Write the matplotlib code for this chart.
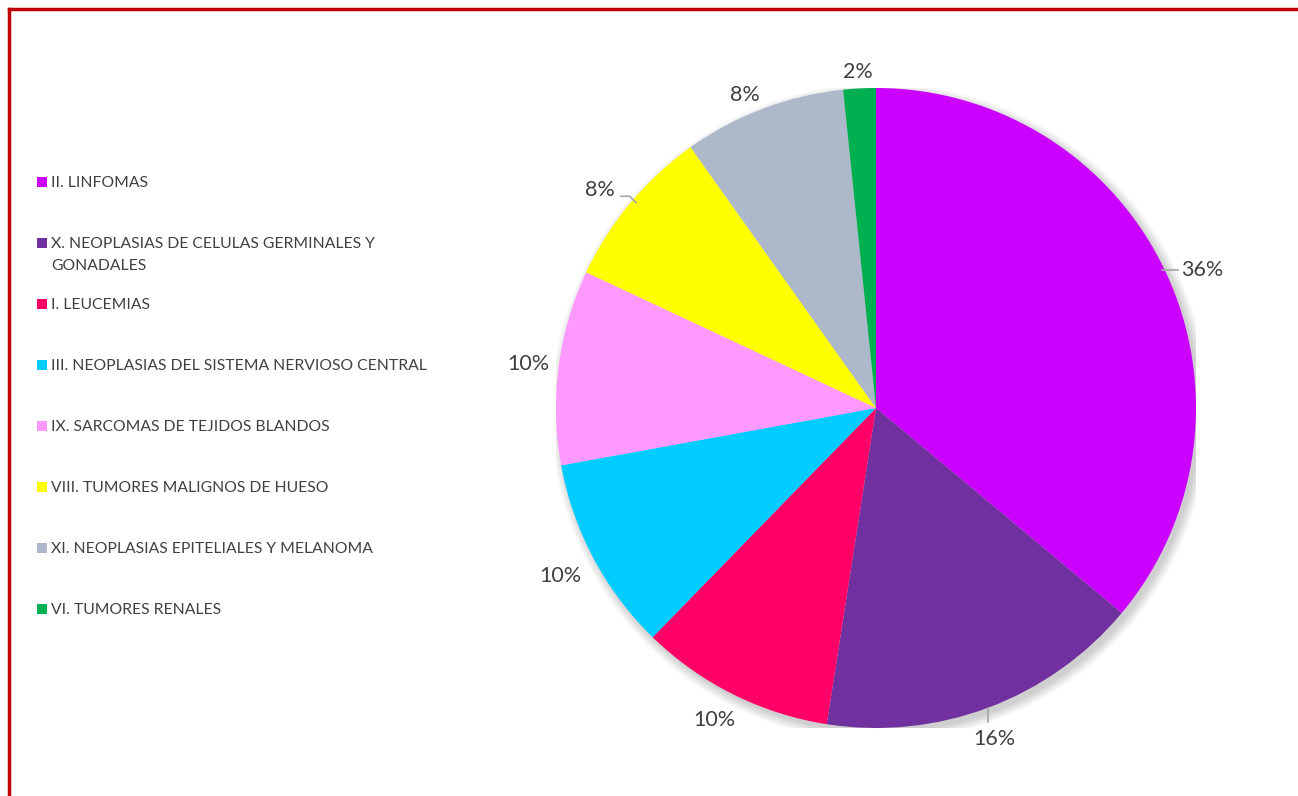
import numpy as np
import matplotlib.pyplot as plt
from matplotlib.lines import Line2D
from matplotlib.patches import Rectangle, Circle

# casos por grupo diagnostico
categorias = [
    "II. LINFOMAS",
    "X. NEOPLASIAS DE CELULAS GERMINALES Y\nGONADALES",
    "I. LEUCEMIAS",
    "III. NEOPLASIAS DEL SISTEMA NERVIOSO CENTRAL",
    "IX. SARCOMAS DE TEJIDOS BLANDOS",
    "VIII. TUMORES MALIGNOS DE HUESO",
    "XI. NEOPLASIAS EPITELIALES Y MELANOMA",
    "VI. TUMORES RENALES",
]
casos = [22, 10, 6, 6, 6, 5, 5, 1]
colores = ["#CC00FF", "#7030A0", "#FF0066", "#00CCFF",
           "#FF99FF", "#FFFF00", "#ADB9CA", "#00B050"]

W, H = 1298, 796
fig = plt.figure(figsize=(W / 100, H / 100), dpi=100)
plt.rcParams['font.family'] = ['Lato', 'DejaVu Sans']
gris = "#404040"

# pie area: center (876, 408), radius 320 px
cx, cy, r = 876, 408, 320
ax = fig.add_axes([(cx - r) / W, (H - cy - r) / H, 2 * r / W, 2 * r / H])
ax.set_xlim(-1, 1)
ax.set_ylim(-1, 1)
ax.set_aspect('equal')
ax.axis('off')

# soft shadow under the pie
for k in range(8):
    ax.add_patch(Circle((0.012, -0.014), 1.0 + 0.004 * k, color='black',
                        alpha=0.025, lw=0, zorder=0))

wedges, texts, autotexts = ax.pie(
    casos, colors=colores, startangle=90, counterclock=False,
    autopct=lambda p: f"{p:.0f}%", pctdistance=1.1, radius=1,
    wedgeprops=dict(linewidth=0), textprops=dict(fontsize=15.5, color=gris))
ax.set_xlim(-1, 1)
ax.set_ylim(-1, 1)

# best-fit style label placement: (distance, angle shift) per slice
ajuste = [(1.106, -2.2), (1.10, -1.0), (1.098, -0.8), (1.117, 0.0),
          (1.096, 0.2), (1.099, 1.5), (1.06, 2.0), (1.052, 0.2)]
for w, t, (d, da) in zip(wedges, autotexts, ajuste):
    a = np.deg2rad((w.theta1 + w.theta2) / 2 + da)
    t.set_position((d * np.cos(a), d * np.sin(a)))
    t.set_clip_on(False)

# leader lines for a few labels
lc = "#A6A6A6"
x0, y0 = autotexts[0].get_position()
ax.plot([np.sqrt(1 - y0 ** 2) - 0.01, x0 - 0.075], [y0, y0], color=lc, lw=1.2, clip_on=False)
x1, y1 = autotexts[1].get_position()
ax.plot([x1 - 0.02, x1 - 0.02], [-np.sqrt(1 - (x1 - 0.02) ** 2), y1 + 0.055],
        color=lc, lw=1.2, clip_on=False)
x5, y5 = autotexts[5].get_position()
xe = -np.sqrt(1 - (y5 - 0.02) ** 2)
ax.plot([x5 + 0.065, xe - 0.02, xe], [y5 - 0.02, y5 - 0.02, y5 - 0.04],
        color=lc, lw=1.2, clip_on=False)

# legend on the left
ly = 182
for nombre, col in zip(categorias, colores):
    fig.add_artist(Rectangle((37 / W, 1 - (ly + 5) / H), 10 / W, 10 / H,
                             transform=fig.transFigure, color=col, lw=0))
    fig.text(51 / W, 1 - (ly - 6) / H, nombre, fontsize=11.3, color=gris,
             va='top', ha='left', linespacing=1.75)
    ly += 61

# red frame
fig.add_artist(Line2D([9 / W, 1], [1 - 9 / H, 1 - 9 / H], color="#C00000", lw=2.5,
                      transform=fig.transFigure))
fig.add_artist(Line2D([9 / W, 9 / W], [0, 1 - 9 / H], color="#C00000", lw=2.5,
                      transform=fig.transFigure))

fig.savefig("out.png", dpi=100, facecolor="white")
